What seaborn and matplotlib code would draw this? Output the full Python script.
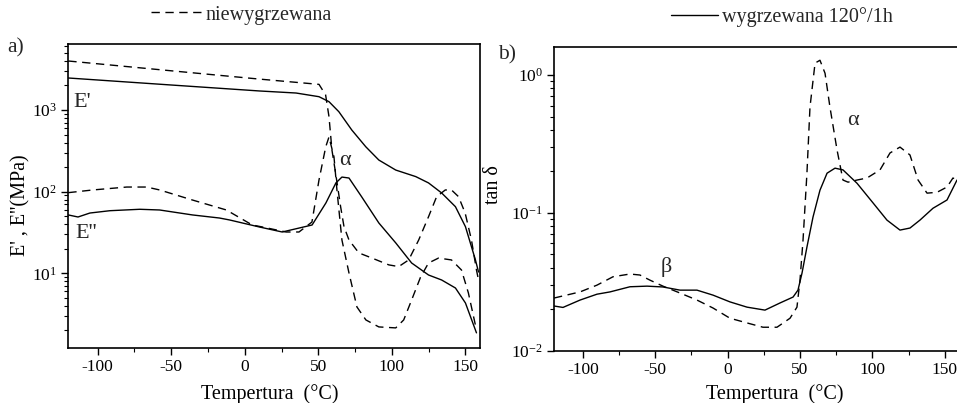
import matplotlib
matplotlib.use("Agg")
import matplotlib.pyplot as plt
import numpy as np
import pandas as pd
import seaborn as sns
from matplotlib.ticker import LogLocator, NullFormatter, MultipleLocator, LogFormatterSciNotation

# ---------------- data ----------------
series_un = "niewygrzewana"
series_an = "wygrzewana 120°/1h"

# a) E' (storage modulus), MPa
temp_Ep_un = [-120, -50, 10, 50.5, 55, 57.3, 59.3, 61.8, 65.2, 67.5, 70.9, 77.6, 86.5, 98,
              104.7, 111.5, 118.3, 125, 130.5, 136.4, 140.6, 145.4, 149.9, 154.2, 157.6, 159]
Ep_un = [3980, 3020, 2390, 2060, 1530, 828, 324, 169, 65.5, 37.3, 25.6, 17.8, 15.4, 12.7,
         12.1, 14.6, 25.6, 49.4, 86.9, 105, 105, 86.9, 54.8, 25.6, 11.0, 8.3]

temp_Ep_an = [-120, -50, 10, 34.9, 50.5, 57.3, 64, 72.8, 82.3, 91.2, 102.7, 116.3, 125,
              133.9, 143.3, 150.1, 156.9, 159]
Ep_an = [2465, 2023, 1710, 1614, 1455, 1264, 953, 569, 355, 244, 184, 153, 128,
         96.5, 65.5, 37.3, 14.6, 10.4]

# a) E'' (loss modulus), MPa
temp_Epp_un = [-120, -103.3, -80.2, -66.7, -57.9, -35.5, -12.5, 5.1, 11.9, 28.1, 36.9, 45.7,
               50.5, 55.1, 57.3, 60.7, 62.7, 66.1, 70.9, 76.3, 82.4, 91.2, 102.7, 108.1,
               113.5, 119.6, 125, 131.8, 140.6, 147.4, 152.1, 157.6]
Epp_un = [97.3, 105, 114, 114, 105, 79, 59.7, 39.1, 37, 32.1, 32.1, 42.5,
          139, 355, 468, 266, 105, 25.6, 10.1, 3.88, 2.69, 2.21, 2.15, 2.69,
          4.72, 9.03, 13.4, 15.4, 14.6, 11.0, 5.76, 2.03]

temp_Epp_an = [-120, -113.4, -105.3, -91.7, -71.4, -57.9, -35.5, -17.2, -10.4, 9.9, 25.5,
               45.8, 55.2, 62, 66.1, 70.9, 79.6, 91.2, 102.7, 113.5, 125, 133.9, 143.3,
               150.1, 157.6]
Epp_an = [51.9, 49, 54.8, 58.5, 60.9, 59.7, 51.9, 47.6, 45.1, 37.0, 32.1,
          39.1, 72.8, 128, 151, 147, 86.1, 41.4, 23.6, 13.4, 9.55, 8.30, 6.62,
          4.34, 1.87]

# b) tan delta
temp_tan_un = [-120, -102, -90.3, -79.2, -67.5, -60.6, -53.7, -44.7, -32.9, -21.2, -10.1,
               1.6, 13.4, 24.4, 34.1, 43.1, 47.9, 50, 52.1, 54.8, 56.9, 60.4, 63.8, 67.3,
               70.7, 75.6, 79.7, 83.2, 89.4, 96.3, 105.3, 112.2, 119.1, 126, 131.6, 137.8,
               144.7, 151.6, 155.7, 158.5]
tan_un = [0.0241, 0.0267, 0.0299, 0.0344, 0.0360, 0.0354, 0.0325, 0.0294, 0.0262, 0.0233,
          0.0204, 0.0172, 0.0159, 0.0148, 0.0148, 0.0172, 0.0207, 0.0325, 0.0635, 0.194,
          0.585, 1.22, 1.28, 1.03, 0.585, 0.286, 0.173, 0.167, 0.173, 0.179, 0.205, 0.272,
          0.300, 0.263, 0.173, 0.139, 0.141, 0.154, 0.179, 0.173]

temp_tan_an = [-120, -113.8, -102, -90.3, -81.3, -67.5, -55.7, -44.7, -32.9, -21.2, -10.1,
               1.6, 13.4, 25.8, 36.2, 45.2, 48.6, 51.4, 54.8, 59, 63.8, 68.7, 74.2, 79.7,
               89.4, 100.5, 110.1, 119.1, 126, 132.9, 141.9, 151.6, 158.5]
tan_an = [0.0211, 0.0206, 0.0233, 0.0257, 0.0267, 0.0291, 0.0294, 0.0290, 0.0275, 0.0275,
          0.0253, 0.0226, 0.0207, 0.0197, 0.0222, 0.0245, 0.0275, 0.0366, 0.0565, 0.0933,
          0.146, 0.194, 0.211, 0.205, 0.164, 0.118, 0.0886, 0.0750, 0.0776, 0.0886, 0.108,
          0.124, 0.173]

x_ticks = [-100, -50, 0, 50, 100, 150]
x_label = "Tempertura  (°C)"
y_label_a = "E' , E''(MPa)"
y_label_b = "tan δ"

# ---------------- style ----------------
sns.set_theme(style="white")
plt.rcParams["font.family"] = ["Liberation Serif", "DejaVu Serif"]
plt.rcParams["mathtext.fontset"] = "custom"
plt.rcParams["mathtext.rm"] = "Liberation Serif"
plt.rcParams["mathtext.it"] = "Liberation Serif:italic"
plt.rcParams["axes.unicode_minus"] = False

W, H = 957, 403
fig = plt.figure(figsize=(W / 100, H / 100), dpi=100)
fig.patch.set_facecolor("white")

axA = fig.add_axes([68.3 / W, 1 - 348 / H, (480 - 68.3) / W, (348 - 44) / H])
axB = fig.add_axes([554 / W, 1 - 350.7 / H, (957 - 554) / W, (350.7 - 47) / H])

DASH = (0, (6, 4))
LW = 1.0


def draw(ax, t, v, dashed):
    sns.lineplot(x=t, y=v, ax=ax, color="black", lw=LW, estimator=None, sort=False,
                 linestyle=DASH if dashed else "-")


draw(axA, temp_Ep_un, Ep_un, True)
draw(axA, temp_Ep_an, Ep_an, False)
draw(axA, temp_Epp_un, Epp_un, True)
draw(axA, temp_Epp_an, Epp_an, False)

draw(axB, temp_tan_un, tan_un, True)
draw(axB, temp_tan_an, tan_an, False)

for ax in (axA, axB):
    ax.set_yscale("log")
    ax.set_xticks(x_ticks)
    ax.set_xticklabels([str(t) for t in x_ticks])
    ax.xaxis.set_minor_locator(MultipleLocator(25))
    ax.yaxis.set_major_locator(LogLocator(base=10))
    ax.yaxis.set_major_formatter(LogFormatterSciNotation())
    ax.yaxis.set_minor_locator(LogLocator(base=10, subs=np.arange(2, 10)))
    ax.yaxis.set_minor_formatter(NullFormatter())
    ax.tick_params(axis="both", which="major", direction="out", length=5, width=1.0,
                   labelsize=12.5, color="black", labelcolor="black", pad=3)
    ax.tick_params(axis="both", which="minor", direction="out", length=3, width=0.8,
                   color="black")
    ax.tick_params(axis="x", which="both", bottom=True)
    ax.tick_params(axis="y", which="both", left=True)
    for s in ax.spines.values():
        s.set_color("black")
        s.set_linewidth(1.2)
    ax.set_xlabel(x_label, fontsize=14.5, color="black")
    ax.grid(False)

axA.set_xlim(-120, 160)
axA.set_ylim(1.22, 6427)
axB.set_xlim(-120, 158.5)
axB.set_ylim(0.01, 1.597)
axB.spines["right"].set_visible(False)

axA.set_ylabel(y_label_a, fontsize=14.5, color="black")
axA.yaxis.set_label_coords(-0.093, 0.47)
axB.set_ylabel(y_label_b, fontsize=14.5, color="black")
axB.yaxis.set_label_coords(-0.127, 0.546)
axA.xaxis.set_label_coords(0.49, -0.118)
axB.xaxis.set_label_coords(0.548, -0.11)

# annotations
axA.text(-116.5, 1253, "E'", fontsize=16, ha="left", va="center")
axA.text(-115.5, 31.2, "E''", fontsize=16, ha="left", va="center")
axA.text(68.1, 238, "α", fontsize=16, ha="center", va="center")
axB.text(86.6, 0.464, "α", fontsize=16, ha="center", va="center")
axB.text(-42.6, 0.0404, "β", fontsize=16, ha="center", va="center")

fig.text(16 / W, 1 - 48 / H, "a)", fontsize=15.5, ha="center", va="center")
fig.text(507 / W, 1 - 55 / H, "b)", fontsize=15.5, ha="center", va="center")

# legends
h_un = axA.get_lines()[0]
h_an = axA.get_lines()[1]
fig.legend(handles=[h_un], labels=[series_un], loc="center",
           bbox_to_anchor=(241 / W, 1 - 15 / H), frameon=False, fontsize=14.5,
           handlelength=2.6, handletextpad=0.1, borderpad=0, borderaxespad=0)
fig.legend(handles=[h_an], labels=[series_an], loc="center",
           bbox_to_anchor=(782 / W, 1 - 17 / H), frameon=False, fontsize=14.5,
           handlelength=2.3, handletextpad=0.2, borderpad=0, borderaxespad=0)

fig.savefig("out.png", dpi=100, facecolor="white")
